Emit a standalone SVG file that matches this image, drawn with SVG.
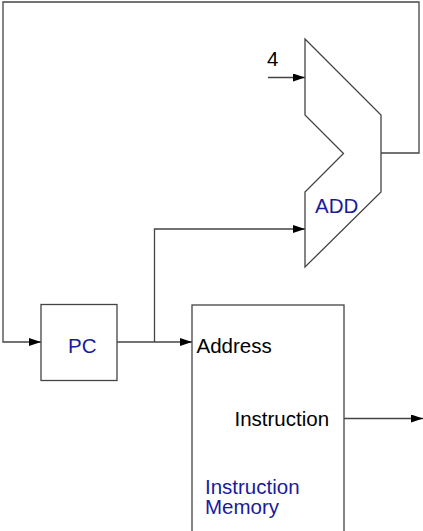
<svg xmlns="http://www.w3.org/2000/svg" width="423" height="531" viewBox="0 0 423 531">
<style>
.ln{fill:none;stroke:#444;stroke-width:1.3}
.box{fill:#fff;stroke:#444;stroke-width:1.3}
.t{font-family:"Liberation Sans",Arial,sans-serif;font-size:20.5px;fill:#000}
.b{font-family:"Liberation Sans",Arial,sans-serif;font-size:20.5px;fill:#1a1a9c}
</style>
<defs>
<marker id="ah" viewBox="0 0 12 8" refX="12" refY="4" markerWidth="12" markerHeight="8" markerUnits="userSpaceOnUse" orient="auto">
<path d="M0,0 L12,4 L0,8 Z" fill="#000"/>
</marker>
</defs>
<g id="connectors">
<polyline class="ln" points="381,153 419,153 419,2 3,2 3,342 41,342" marker-end="url(#ah)"/>
<polyline class="ln" points="117,342 192,342" marker-end="url(#ah)"/>
<polyline class="ln" points="154.5,342 154.5,229 305,229" marker-end="url(#ah)"/>
<polyline class="ln" points="268,77.5 305,77.5" marker-end="url(#ah)"/>
<polyline class="ln" points="344,418.5 423,418.5" marker-end="url(#ah)"/>
</g>
<g id="add">
<polygon class="box" points="305,39 381,115 381,192 305,267 305,192 343.5,153.5 305,115"/>
<text class="b" x="315" y="213">ADD</text>
</g>
<g id="four">
<text class="t" x="267" y="66">4</text>
</g>
<g id="pc">
<rect class="box" x="41" y="304.5" width="76" height="76"/>
<text class="b" x="68" y="353">PC</text>
</g>
<g id="imem">
<rect class="box" x="192" y="305" width="152" height="240"/>
<text class="t" x="196.5" y="353">Address</text>
<text class="t" x="234.5" y="426">Instruction</text>
<text class="b" x="205" y="494">Instruction</text>
<text class="b" x="205" y="514">Memory</text>
</g>
</svg>
